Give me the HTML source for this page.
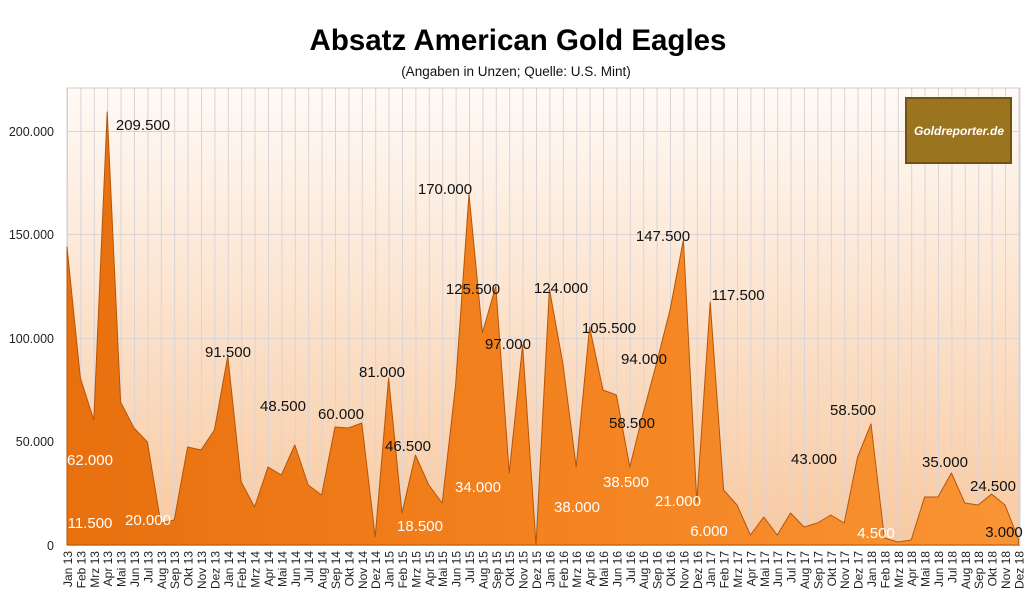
<!DOCTYPE html>
<html><head><meta charset="utf-8"><style>
body{margin:0;background:#fff;}
svg{display:block;font-family:"Liberation Sans","DejaVu Sans",sans-serif;}
.b{font-size:15px;fill:#111;text-anchor:middle;}
.w{font-size:15px;fill:#fff;text-anchor:middle;}
.xl{font-size:12px;fill:#222;text-anchor:end;}
.yl{font-size:12.5px;fill:#222;text-anchor:end;}
</style></head><body>
<svg width="1033" height="603" viewBox="0 0 1033 603" xmlns="http://www.w3.org/2000/svg">
<defs>
<linearGradient id="bg" x1="0" y1="0" x2="0" y2="1">
<stop offset="0" stop-color="#fffaf6"/><stop offset="1" stop-color="#f8c9a0"/></linearGradient>
<linearGradient id="ar" x1="0" y1="0" x2="1" y2="0">
<stop offset="0" stop-color="#e8700e"/><stop offset="0.5" stop-color="#f3821f"/><stop offset="1" stop-color="#f99434"/></linearGradient>
<pattern id="vg" x="67" y="0" width="13.4" height="603" patternUnits="userSpaceOnUse"><line x1="0.5" y1="0" x2="0.5" y2="603" stroke="#d8d4d8" stroke-width="1"/></pattern>
</defs>
<text x="518" y="50" text-anchor="middle" font-size="29.5" font-weight="bold" fill="#000">Absatz American Gold Eagles</text>
<text x="516" y="76" text-anchor="middle" font-size="13.5" fill="#111">(Angaben in Unzen; Quelle: U.S. Mint)</text>
<rect x="67" y="88" width="953" height="457" fill="url(#bg)"/>
<rect x="67" y="88" width="953" height="457" fill="url(#vg)"/>
<g stroke="#d8d4d8" stroke-width="1">
<line x1="67" y1="131.5" x2="1020" y2="131.5"/><line x1="67" y1="234.5" x2="1020" y2="234.5"/><line x1="67" y1="338.5" x2="1020" y2="338.5"/><line x1="67" y1="441.5" x2="1020" y2="441.5"/>
</g>
<rect x="67" y="88" width="953" height="457" fill="none" stroke="#d0ccd0"/>
<polygon fill="url(#ar)" stroke="#b4560a" stroke-width="1" stroke-linejoin="round" points="67,545 67,247 80.4,378 93.8,420 107.2,112 120.6,402 134,428 147.4,442 160.8,523 174.2,520 187.6,447 201,450 214.4,430 227.8,356 241.2,482 254.6,507 268,467 281.4,475 294.8,445 308.2,485 321.6,495 335,427 348.4,428 361.8,423 375.2,537 388.6,378 402,513 415.4,455 428.8,485 442.2,503 455.6,385 469,194 482.4,333 495.8,286 509.2,473 522.6,345 536,545 549.4,289 562.8,363 576.2,467 589.6,327 603,390 616.4,395 629.8,467 643.2,413 656.6,363 670,310 683.4,240 696.8,502 710.2,302 723.6,490 737,505 750.4,535 763.8,517 777.2,535 790.6,513 804,527 817.4,523 830.8,515 844.2,523 857.6,457 871,424 884.4,538 897.8,542 911.2,540 924.6,497 938,497 951.4,473 964.8,503 978.2,505 991.6,494 1005,505 1018.4,539 1018.4,545"/>
<line x1="67" y1="545.5" x2="1020" y2="545.5" stroke="#a0a0a0"/>
<g class="yl"><text x="54" y="136">200.000</text><text x="54" y="239">150.000</text><text x="54" y="343">100.000</text><text x="54" y="446">50.000</text><text x="54" y="550">0</text></g>
<g class="b">
<text x="143" y="130">209.500</text><text x="228" y="357">91.500</text><text x="283" y="411">48.500</text><text x="341" y="419">60.000</text><text x="382" y="377">81.000</text><text x="408" y="451">46.500</text><text x="445" y="194">170.000</text><text x="473" y="294">125.500</text><text x="508" y="349">97.000</text><text x="561" y="293">124.000</text><text x="609" y="333">105.500</text><text x="644" y="364">94.000</text><text x="632" y="428">58.500</text><text x="663" y="241">147.500</text><text x="738" y="300">117.500</text><text x="814" y="464">43.000</text><text x="853" y="415">58.500</text><text x="945" y="467">35.000</text><text x="993" y="491">24.500</text><text x="1004" y="537">3.000</text>
</g>
<g class="w">
<text x="90" y="465">62.000</text><text x="90" y="528">11.500</text><text x="148" y="525">20.000</text><text x="420" y="531">18.500</text><text x="478" y="492">34.000</text><text x="626" y="487">38.500</text><text x="577" y="512">38.000</text><text x="678" y="506">21.000</text><text x="709" y="536">6.000</text><text x="876" y="538">4.500</text>
</g>
<rect x="906" y="98" width="105" height="65" fill="#9b7420" stroke="#6e5214" stroke-width="2"/>
<text x="959" y="135" text-anchor="middle" font-size="12" font-style="italic" font-weight="bold" fill="#fff">Goldreporter.de</text>
<g class="xl">
<text transform="translate(72,551) rotate(-90)">Jan 13</text><text transform="translate(85.4,551) rotate(-90)">Feb 13</text><text transform="translate(98.8,551) rotate(-90)">Mrz 13</text><text transform="translate(112.2,551) rotate(-90)">Apr 13</text><text transform="translate(125.6,551) rotate(-90)">Mai 13</text><text transform="translate(139,551) rotate(-90)">Jun 13</text><text transform="translate(152.4,551) rotate(-90)">Jul 13</text><text transform="translate(165.8,551) rotate(-90)">Aug 13</text><text transform="translate(179.2,551) rotate(-90)">Sep 13</text><text transform="translate(192.6,551) rotate(-90)">Okt 13</text><text transform="translate(206,551) rotate(-90)">Nov 13</text><text transform="translate(219.4,551) rotate(-90)">Dez 13</text>
<text transform="translate(232.8,551) rotate(-90)">Jan 14</text><text transform="translate(246.2,551) rotate(-90)">Feb 14</text><text transform="translate(259.6,551) rotate(-90)">Mrz 14</text><text transform="translate(273,551) rotate(-90)">Apr 14</text><text transform="translate(286.4,551) rotate(-90)">Mai 14</text><text transform="translate(299.8,551) rotate(-90)">Jun 14</text><text transform="translate(313.2,551) rotate(-90)">Jul 14</text><text transform="translate(326.6,551) rotate(-90)">Aug 14</text><text transform="translate(340,551) rotate(-90)">Sep 14</text><text transform="translate(353.4,551) rotate(-90)">Okt 14</text><text transform="translate(366.8,551) rotate(-90)">Nov 14</text><text transform="translate(380.2,551) rotate(-90)">Dez 14</text>
<text transform="translate(393.6,551) rotate(-90)">Jan 15</text><text transform="translate(407,551) rotate(-90)">Feb 15</text><text transform="translate(420.4,551) rotate(-90)">Mrz 15</text><text transform="translate(433.8,551) rotate(-90)">Apr 15</text><text transform="translate(447.2,551) rotate(-90)">Mai 15</text><text transform="translate(460.6,551) rotate(-90)">Jun 15</text><text transform="translate(474,551) rotate(-90)">Jul 15</text><text transform="translate(487.4,551) rotate(-90)">Aug 15</text><text transform="translate(500.8,551) rotate(-90)">Sep 15</text><text transform="translate(514.2,551) rotate(-90)">Okt 15</text><text transform="translate(527.6,551) rotate(-90)">Nov 15</text><text transform="translate(541,551) rotate(-90)">Dez 15</text>
<text transform="translate(554.4,551) rotate(-90)">Jan 16</text><text transform="translate(567.8,551) rotate(-90)">Feb 16</text><text transform="translate(581.2,551) rotate(-90)">Mrz 16</text><text transform="translate(594.6,551) rotate(-90)">Apr 16</text><text transform="translate(608,551) rotate(-90)">Mai 16</text><text transform="translate(621.4,551) rotate(-90)">Jun 16</text><text transform="translate(634.8,551) rotate(-90)">Jul 16</text><text transform="translate(648.2,551) rotate(-90)">Aug 16</text><text transform="translate(661.6,551) rotate(-90)">Sep 16</text><text transform="translate(675,551) rotate(-90)">Okt 16</text><text transform="translate(688.4,551) rotate(-90)">Nov 16</text><text transform="translate(701.8,551) rotate(-90)">Dez 16</text>
<text transform="translate(715.2,551) rotate(-90)">Jan 17</text><text transform="translate(728.6,551) rotate(-90)">Feb 17</text><text transform="translate(742,551) rotate(-90)">Mrz 17</text><text transform="translate(755.4,551) rotate(-90)">Apr 17</text><text transform="translate(768.8,551) rotate(-90)">Mai 17</text><text transform="translate(782.2,551) rotate(-90)">Jun 17</text><text transform="translate(795.6,551) rotate(-90)">Jul 17</text><text transform="translate(809,551) rotate(-90)">Aug 17</text><text transform="translate(822.4,551) rotate(-90)">Sep 17</text><text transform="translate(835.8,551) rotate(-90)">Okt 17</text><text transform="translate(849.2,551) rotate(-90)">Nov 17</text><text transform="translate(862.6,551) rotate(-90)">Dez 17</text>
<text transform="translate(876,551) rotate(-90)">Jan 18</text><text transform="translate(889.4,551) rotate(-90)">Feb 18</text><text transform="translate(902.8,551) rotate(-90)">Mrz 18</text><text transform="translate(916.2,551) rotate(-90)">Apr 18</text><text transform="translate(929.6,551) rotate(-90)">Mai 18</text><text transform="translate(943,551) rotate(-90)">Jun 18</text><text transform="translate(956.4,551) rotate(-90)">Jul 18</text><text transform="translate(969.8,551) rotate(-90)">Aug 18</text><text transform="translate(983.2,551) rotate(-90)">Sep 18</text><text transform="translate(996.6,551) rotate(-90)">Okt 18</text><text transform="translate(1010,551) rotate(-90)">Nov 18</text><text transform="translate(1023.4,551) rotate(-90)">Dez 18</text>
</g>
</svg>
</body></html>
